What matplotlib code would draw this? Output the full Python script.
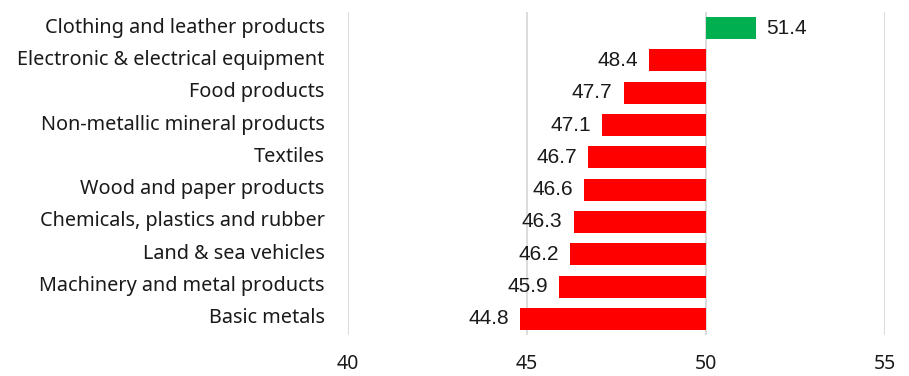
import matplotlib
matplotlib.use("Agg")
import matplotlib.pyplot as plt
import matplotlib.transforms as mtransforms

categories = ["Clothing and leather products", "Electronic & electrical equipment",
              "Food products", "Non-metallic mineral products", "Textiles",
              "Wood and paper products", "Chemicals, plastics and rubber",
              "Land & sea vehicles", "Machinery and metal products", "Basic metals"]
values = [51.4, 48.4, 47.7, 47.1, 46.7, 46.6, 46.3, 46.2, 45.9, 44.8]
baseline = 50
xticks = [40, 45, 50, 55]

fig = plt.figure(figsize=(9.09, 3.76), dpi=100)
ax = fig.add_axes([0.383, 0.109, 0.5906, 0.859])

ypos = list(range(len(categories)))
colors = ["#00B050" if v >= baseline else "#FF0000" for v in values]
widths = [v - baseline for v in values]
ax.barh(ypos, widths, left=baseline, height=0.68, color=colors, zorder=3)

for y, v in zip(ypos, values):
    if v >= baseline:
        ax.annotate(f"{v:.1f}", (v, y), xytext=(7, 0), textcoords="offset points",
                    ha="left", va="center", fontsize=15, family="Liberation Sans", color="#1a1a1a")
    else:
        ax.annotate(f"{v:.1f}", (v, y), xytext=(-8, 0), textcoords="offset points",
                    ha="right", va="center", fontsize=15, family="Liberation Sans", color="#1a1a1a")

ax.set_xlim(40, 55)
ax.set_ylim(len(categories) - 0.5, -0.5)
ax.set_xticks(xticks)
ax.set_xticklabels([str(t) for t in xticks], fontsize=14, family="Noto Sans", color="#1a1a1a")
ax.set_yticks(ypos)
ax.set_yticklabels(categories, fontsize=14.3, family="Noto Sans", color="#1a1a1a")
ax.tick_params(axis="both", length=0)
ax.tick_params(axis="y", pad=17)
ax.tick_params(axis="x", pad=14)
shift = mtransforms.ScaledTranslation(0, 3 / 100, fig.dpi_scale_trans)
for lbl in ax.get_yticklabels():
    lbl.set_transform(lbl.get_transform() + shift)
ax.grid(axis="x", color="#D9D9D9", linewidth=1.3, zorder=0)
for s in ax.spines.values():
    s.set_visible(False)

fig.savefig("out.png", dpi=100)
